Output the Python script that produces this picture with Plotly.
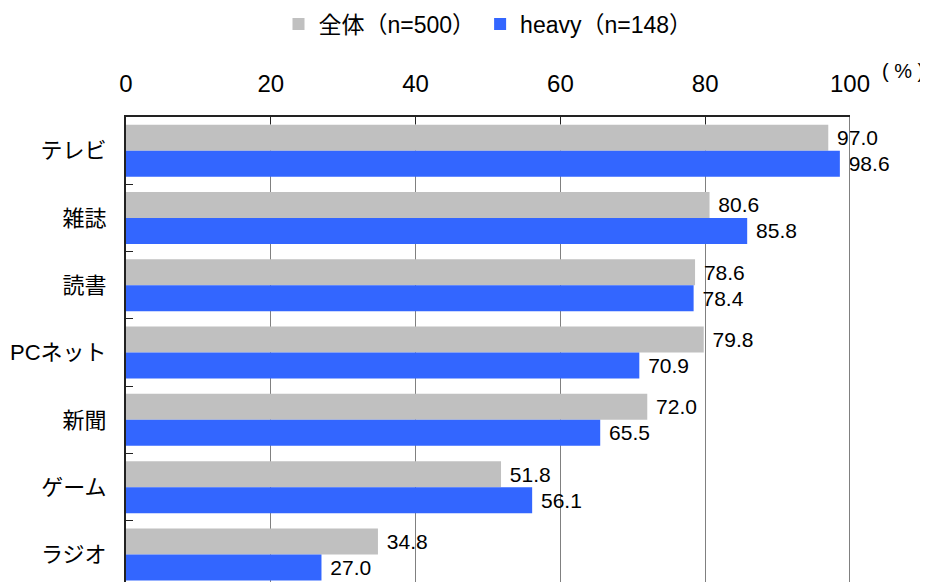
import plotly.graph_objects as go

# data
categories = ["テレビ", "雑誌", "読書", "PCネット", "新聞", "ゲーム", "ラジオ"]
zentai = [97.0, 80.6, 78.6, 79.8, 72.0, 51.8, 34.8]
heavy = [98.6, 85.8, 78.4, 70.9, 65.5, 56.1, 27.0]
series_names = ["全体（n=500）", "heavy（n=148）"]
x_ticks = [0, 20, 40, 60, 80, 100]

FONT = "Liberation Sans, Arial, Noto Sans CJK JP"

fig = go.Figure()
fig.add_trace(go.Bar(
    y=categories, x=zentai, orientation="h", name=series_names[0],
    marker=dict(color="#C0C0C0", line=dict(width=0)),
    text=[f" {v:.1f}" for v in zentai], textposition="outside",
    textfont=dict(size=21, color="black", family=FONT),
    cliponaxis=False,
))
fig.add_trace(go.Bar(
    y=categories, x=heavy, orientation="h", name=series_names[1],
    marker=dict(color="#3366FF", line=dict(width=0)),
    text=[f" {v:.1f}" for v in heavy], textposition="outside",
    textfont=dict(size=21, color="black", family=FONT),
    cliponaxis=False,
))

# the page body has an 8px margin, so the figure is 8px smaller and margins shifted
fig.update_layout(
    width=920, height=574,
    margin=dict(l=118, r=78, t=109, b=0, autoexpand=False),
    paper_bgcolor="white", plot_bgcolor="white",
    font=dict(family=FONT, size=21, color="black"),
    barmode="group", bargap=0.227, bargroupgap=0,
    showlegend=True,
    legend=dict(orientation="h", x=0.5, xanchor="center", y=(574 - 16) / 465, yanchor="middle",
                font=dict(size=23), traceorder="normal", itemwidth=30),
)

fig.update_xaxes(
    side="top", range=[0, 100], tickvals=x_ticks,
    showgrid=True, gridcolor="#808080", gridwidth=1,
    showline=True, linecolor="#222222", linewidth=2,
    ticks="inside", ticklen=7, tickcolor="#222222",
    tickfont=dict(size=24), ticklabelstandoff=13,
    zeroline=False, fixedrange=True, automargin=False,
)
fig.update_yaxes(
    categoryorder="array", categoryarray=categories,
    range=[-0.5 + 465 / 67.3, -0.5],
    showgrid=False, showline=True, linecolor="#222222", linewidth=2,
    ticks="inside", tickson="boundaries", ticklen=7, tickcolor="#222222",
    tickfont=dict(size=22), ticklabelstandoff=13,
    zeroline=False, fixedrange=True, automargin=False,
)

# right border of the plot area
fig.add_shape(type="line", xref="x", yref="paper", x0=100, x1=100, y0=0, y1=1,
              line=dict(color="#808080", width=2))

fig.add_annotation(text="( % )", xref="paper", yref="paper", x=1.0, y=(574 - 63) / 465,
                   xanchor="left", yanchor="middle", showarrow=False,
                   font=dict(size=20), xshift=30)

fig.write_html("out.html")
